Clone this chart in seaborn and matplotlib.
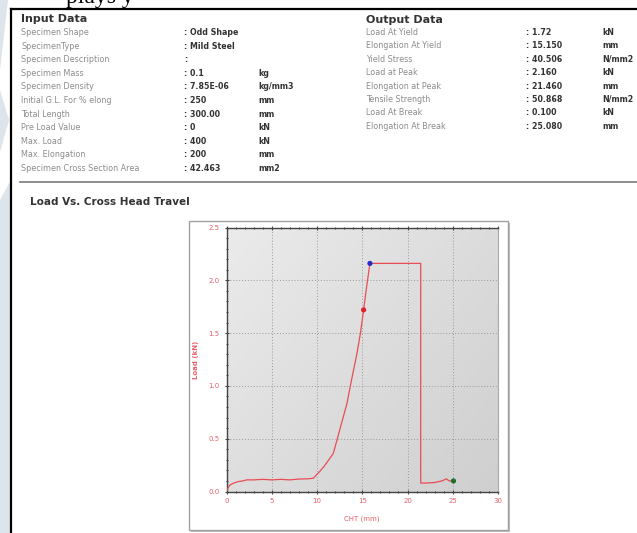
import numpy as np
import matplotlib
matplotlib.use("Agg")
import matplotlib.pyplot as plt
import seaborn as sns
from matplotlib.patches import Rectangle, Polygon
from matplotlib.lines import Line2D

# report text
input_labels = ["Specimen Shape", "SpecimenType", "Specimen Description", "Specimen Mass",
                "Specimen Density", "Initial G.L. For % elong", "Total Length", "Pre Load Value",
                "Max. Load", "Max. Elongation", "Specimen Cross Section Area"]
input_values = [": Odd Shape", ": Mild Steel", ":", ": 0.1", ": 7.85E-06", ": 250", ": 300.00",
                ": 0", ": 400", ": 200", ": 42.463"]
input_units = ["", "", "", "kg", "kg/mm3", "mm", "mm", "kN", "kN", "mm", "mm2"]

output_labels = ["Load At Yield", "Elongation At Yield", "Yield Stress", "Load at Peak",
                 "Elongation at Peak", "Tensile Strength", "Load At Break", "Elongation At Break"]
output_values = [": 1.72", ": 15.150", ": 40.506", ": 2.160", ": 21.460", ": 50.868", ": 0.100", ": 25.080"]
output_units = ["kN", "mm", "N/mm2", "kN", "mm", "N/mm2", "kN", "mm"]

# curve
cht = [0, 0.2, 0.4, 0.8, 1.3, 1.8, 2.2, 3, 4, 5, 6, 7, 8, 9, 9.6, 10.2, 10.8, 11.8, 12.5,
       13.3, 13.8, 14.4, 14.8, 15.15, 15.5, 15.85, 18, 21.46, 21.46, 22, 23, 23.8, 24.3, 24.6, 25.08]
load = [0, 0.04, 0.063, 0.08, 0.094, 0.1, 0.11, 0.11, 0.115, 0.11, 0.115, 0.11, 0.118, 0.12,
        0.126, 0.18, 0.24, 0.36, 0.58, 0.83, 1.05, 1.3, 1.5, 1.72, 1.95, 2.16, 2.16, 2.16,
        0.08, 0.08, 0.085, 0.1, 0.12, 0.1, 0.1]
pt_x = [15.15, 15.85, 25.08]
pt_y = [1.72, 2.16, 0.10]
pt_col = ["#e0202a", "#2a2ac8", "#1f6e2a"]

W, H = 637, 533
fig = plt.figure(figsize=(W / 100, H / 100), dpi=100)
fig.patch.set_facecolor("white")

def fx(x):
    return x / W

def fy(y):
    return 1 - y / H

# faint watermark at the left edge
for pts in [[(0, 0), (8, 0), (0, 70)], [(0, 90), (9, 120), (0, 152)], [(0, 200), (11, 180), (11, 533), (0, 533)]]:
    fig.patches.append(Polygon([(fx(a), fy(b)) for a, b in pts], closed=True, zorder=-10,
                               transform=fig.transFigure, facecolor="#dde4ea", edgecolor="none"))

# cut off text above the report
fig.text(fx(66), fy(3), "plays y", fontsize=17, family="Liberation Serif", color="black", va="baseline")

# report frame
fig.add_artist(Line2D([fx(11), 1], [fy(9), fy(9)], color="black", lw=1.6))
fig.add_artist(Line2D([fx(11), fx(11)], [fy(9), 0], color="black", lw=1.6))
fig.add_artist(Line2D([fx(20), 1], [fy(182), fy(182)], color="#7a7a7a", lw=1.2))

lab_kw = dict(fontsize=5.8, color="#8c8c8c", va="center")
val_kw = dict(fontsize=5.7, color="#333333", va="center", weight="bold")

fig.text(fx(21), fy(19), "Input Data", fontsize=8, weight="bold", color="#333333", va="center")
for i, (a, b, c) in enumerate(zip(input_labels, input_values, input_units)):
    y = 32.5 + i * 13.6
    fig.text(fx(21), fy(y), a, **lab_kw)
    fig.text(fx(184), fy(y), b, **val_kw)
    fig.text(fx(258), fy(y), c, **val_kw)

fig.text(fx(366), fy(20), "Output Data", fontsize=8, weight="bold", color="#333333", va="center")
for i, (a, b, c) in enumerate(zip(output_labels, output_values, output_units)):
    y = 32.5 + i * 13.4
    fig.text(fx(366), fy(y), a, **lab_kw)
    fig.text(fx(526), fy(y), b, **val_kw)
    fig.text(fx(602), fy(y), c, **val_kw)

fig.text(fx(30), fy(202), "Load Vs. Cross Head Travel", fontsize=7.5, weight="bold", color="#333333", va="center")

# chart box with shadow
fig.patches.append(Rectangle((fx(191), fy(532)), fx(319), 309 / H, transform=fig.transFigure,
                             facecolor="#bdbdbd", edgecolor="none", zorder=-5))
fig.patches.append(Rectangle((fx(189), fy(530)), fx(319), 309 / H, transform=fig.transFigure,
                             facecolor="white", edgecolor="#a0a0a0", lw=1.0, zorder=-4))

ax = fig.add_axes([fx(226.5), fy(491.5), (498 - 226.5) / W, (491.5 - 227.5) / H])
ax.set_zorder(2)
grad = np.linspace(0, 1, 200)
gx, gy = np.meshgrid(grad, grad)
ax.imshow(0.55 * gx + 0.45 * gy, extent=[0, 30, 0, 2.5], origin="upper", aspect="auto",
          cmap=sns.light_palette("#cfcfcf", as_cmap=True), vmin=-0.2, vmax=1, zorder=0)

sns.lineplot(x=cht, y=load, sort=False, estimator=None, color="#e84c55", lw=0.9, ax=ax, zorder=3)
sns.scatterplot(x=pt_x, y=pt_y, hue=pt_col, palette={c: c for c in pt_col}, s=14,
                edgecolor="none", legend=False, ax=ax, zorder=4)

ax.set_xlim(0, 30)
ax.set_ylim(0, 2.5)
ax.set_xticks(np.arange(0, 31, 5))
ax.set_yticks(np.arange(0, 2.51, 0.5))
ax.set_xticklabels([str(v) for v in range(0, 31, 5)])
ax.set_yticklabels(["0.0", "0.5", "1.0", "1.5", "2.0", "2.5"])
ax.set_xticks(np.arange(0, 30.1, 1), minor=True)
ax.set_yticks(np.arange(0, 2.51, 0.1), minor=True)
ax.tick_params(which="both", direction="inout", colors="#444444", labelcolor="#e8606a",
               labelsize=5, top=True, right=False, length=3, width=0.8)
ax.tick_params(which="minor", length=2)
ax.grid(True, which="major", ls=(0, (1, 2)), color="#9a9a9a", lw=0.7)
for s in ["left", "bottom", "top"]:
    ax.spines[s].set_color("#444444")
    ax.spines[s].set_linewidth(1.0)
ax.spines["right"].set_color("#aaaaaa")
ax.set_xlabel("CHT (mm)", fontsize=5, color="#e8606a", labelpad=8)
ax.set_ylabel("Load (kN)", fontsize=5, color="#e8606a", weight="bold", labelpad=7)

fig.savefig("out.png", dpi=100)
